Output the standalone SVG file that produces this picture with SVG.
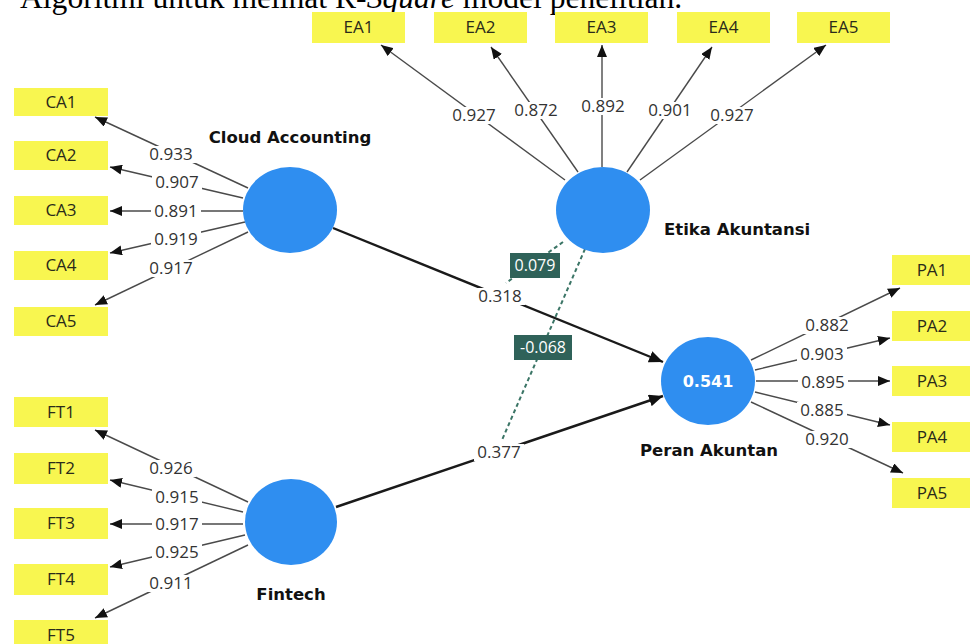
<svg xmlns="http://www.w3.org/2000/svg" width="970" height="644" viewBox="0 0 970 644">
<defs>
<style>
.cap{font-family:"Liberation Serif","Times New Roman",serif;font-size:31.6px;fill:#000}
.ind rect{fill:#f8f650}
.ind text{font-family:"Open Sans","DejaVu Sans",sans-serif;font-size:17px;fill:#2a2a1a;text-anchor:middle}
.lv ellipse{fill:#2f8ef0}
.lvname{font-family:"DejaVu Sans","Open Sans",sans-serif;font-size:16.5px;font-weight:bold;fill:#111}
.r2{font-family:"DejaVu Sans","Open Sans",sans-serif;font-size:16px;font-weight:bold;fill:#fff;text-anchor:middle}
.ld{stroke:#4a4a4a;stroke-width:1.4;fill:none}
.sp{stroke:#1a1a1a;stroke-width:2.4;fill:none}
.md{stroke:#3b7566;stroke-width:2;stroke-dasharray:4 3;fill:none}
.lbg{fill:#fff}
.lbl{font-family:"Open Sans","DejaVu Sans",sans-serif;font-size:17px;fill:#333;text-anchor:middle}
.mbox{fill:#2f6259}
.mtxt{font-family:"Open Sans","DejaVu Sans",sans-serif;font-size:16px;fill:#fff;text-anchor:middle}
</style>
<marker id="ah" viewBox="0 0 12 10" refX="12" refY="5" markerWidth="12" markerHeight="10" markerUnits="userSpaceOnUse" orient="auto">
<path d="M0,0 L12,5 L0,10 z" fill="#111"/>
</marker>
<marker id="ahb" viewBox="0 0 14 12" refX="14" refY="6" markerWidth="14" markerHeight="12" markerUnits="userSpaceOnUse" orient="auto">
<path d="M0,0 L14,6 L0,12 z" fill="#111"/>
</marker>
</defs>
<rect width="970" height="644" fill="#fff"/>
<text class="cap" x="20" y="8">Algoritmi untuk melihat R-<tspan font-style="italic">Square</tspan> model penelitian.</text>

<g id="connectors">
<!-- Cloud Accounting loadings -->
<line class="ld" x1="248" y1="188" x2="95" y2="117" marker-end="url(#ah)"/>
<line class="ld" x1="243" y1="198" x2="110" y2="167" marker-end="url(#ah)"/>
<line class="ld" x1="243" y1="211" x2="110" y2="211" marker-end="url(#ah)"/>
<line class="ld" x1="245" y1="222" x2="110" y2="253" marker-end="url(#ah)"/>
<line class="ld" x1="248" y1="232" x2="95" y2="305" marker-end="url(#ah)"/>
<!-- Fintech loadings -->
<line class="ld" x1="248" y1="502" x2="95" y2="430" marker-end="url(#ah)"/>
<line class="ld" x1="243" y1="512" x2="110" y2="480" marker-end="url(#ah)"/>
<line class="ld" x1="243" y1="524" x2="110" y2="524" marker-end="url(#ah)"/>
<line class="ld" x1="245" y1="535" x2="110" y2="567" marker-end="url(#ah)"/>
<line class="ld" x1="248" y1="545" x2="95" y2="618" marker-end="url(#ah)"/>
<!-- Etika Akuntansi loadings -->
<line class="ld" x1="565" y1="180" x2="381" y2="45" marker-end="url(#ah)"/>
<line class="ld" x1="578" y1="172" x2="491" y2="47" marker-end="url(#ah)"/>
<line class="ld" x1="602" y1="167" x2="602" y2="45" marker-end="url(#ah)"/>
<line class="ld" x1="627" y1="172" x2="712" y2="47" marker-end="url(#ah)"/>
<line class="ld" x1="640" y1="180" x2="826" y2="45" marker-end="url(#ah)"/>
<!-- Peran Akuntan loadings -->
<line class="ld" x1="751" y1="360" x2="900" y2="288" marker-end="url(#ah)"/>
<line class="ld" x1="755" y1="370" x2="890" y2="338" marker-end="url(#ah)"/>
<line class="ld" x1="756" y1="381" x2="890" y2="381" marker-end="url(#ah)"/>
<line class="ld" x1="755" y1="392" x2="890" y2="425" marker-end="url(#ah)"/>
<line class="ld" x1="751" y1="402" x2="903" y2="473" marker-end="url(#ah)"/>
<!-- structural paths -->
<line class="sp" x1="333" y1="228" x2="663" y2="362" marker-end="url(#ahb)"/>
<line class="sp" x1="336" y1="507" x2="663" y2="396" marker-end="url(#ahb)"/>
<!-- moderating effects -->
<line class="md" x1="563" y1="242" x2="506" y2="283"/>
<line class="md" x1="585" y1="249" x2="502" y2="440"/>

<!-- loading labels -->
<g>
<rect class="lbg" x="146" y="146" width="50" height="17"/><text class="lbl" x="171" y="160">0.933</text>
<rect class="lbg" x="152" y="174" width="50" height="17"/><text class="lbl" x="177" y="188">0.907</text>
<rect class="lbg" x="151" y="203" width="50" height="17"/><text class="lbl" x="176" y="217">0.891</text>
<rect class="lbg" x="151" y="231" width="50" height="17"/><text class="lbl" x="176" y="245">0.919</text>
<rect class="lbg" x="146" y="260" width="50" height="17"/><text class="lbl" x="171" y="274">0.917</text>

<rect class="lbg" x="146" y="460" width="50" height="17"/><text class="lbl" x="171" y="474">0.926</text>
<rect class="lbg" x="152" y="489" width="50" height="17"/><text class="lbl" x="177" y="503">0.915</text>
<rect class="lbg" x="152" y="516" width="50" height="17"/><text class="lbl" x="177" y="530">0.917</text>
<rect class="lbg" x="152" y="544" width="50" height="17"/><text class="lbl" x="177" y="558">0.925</text>
<rect class="lbg" x="146" y="575" width="50" height="17"/><text class="lbl" x="171" y="589">0.911</text>

<rect class="lbg" x="449" y="107" width="50" height="17"/><text class="lbl" x="474" y="121">0.927</text>
<rect class="lbg" x="511" y="102" width="50" height="17"/><text class="lbl" x="536" y="116">0.872</text>
<rect class="lbg" x="578" y="98" width="50" height="17"/><text class="lbl" x="603" y="112">0.892</text>
<rect class="lbg" x="645" y="102" width="50" height="17"/><text class="lbl" x="670" y="116">0.901</text>
<rect class="lbg" x="707" y="107" width="50" height="17"/><text class="lbl" x="732" y="121">0.927</text>

<rect class="lbg" x="802" y="317" width="50" height="17"/><text class="lbl" x="827" y="331">0.882</text>
<rect class="lbg" x="797" y="346" width="50" height="17"/><text class="lbl" x="822" y="360">0.903</text>
<rect class="lbg" x="798" y="374" width="50" height="17"/><text class="lbl" x="823" y="388">0.895</text>
<rect class="lbg" x="797" y="402" width="50" height="17"/><text class="lbl" x="822" y="416">0.885</text>
<rect class="lbg" x="802" y="431" width="50" height="17"/><text class="lbl" x="827" y="445">0.920</text>

<rect class="lbg" x="475" y="288" width="50" height="17"/><text class="lbl" x="500" y="302">0.318</text>
<rect class="lbg" x="474" y="444" width="50" height="17"/><text class="lbl" x="499" y="458">0.377</text>
</g>
<g>
<rect class="mbox" x="510" y="253" width="50" height="25"/><text class="mtxt" x="535" y="271">0.079</text>
<rect class="mbox" x="514" y="335" width="58" height="25"/><text class="mtxt" x="543" y="353">-0.068</text>
</g>
</g>

<g id="CA1" class="ind"><rect x="14" y="88" width="94" height="28"/><text x="61" y="108">CA1</text></g>
<g id="CA2" class="ind"><rect x="14" y="141" width="94" height="29"/><text x="61" y="161">CA2</text></g>
<g id="CA3" class="ind"><rect x="14" y="196" width="94" height="29"/><text x="61" y="216">CA3</text></g>
<g id="CA4" class="ind"><rect x="14" y="251" width="94" height="29"/><text x="61" y="271">CA4</text></g>
<g id="CA5" class="ind"><rect x="14" y="307" width="94" height="29"/><text x="61" y="327">CA5</text></g>

<g id="FT1" class="ind"><rect x="14" y="397" width="94" height="30"/><text x="61" y="418">FT1</text></g>
<g id="FT2" class="ind"><rect x="14" y="453" width="94" height="31"/><text x="61" y="474">FT2</text></g>
<g id="FT3" class="ind"><rect x="14" y="508" width="94" height="31"/><text x="61" y="529">FT3</text></g>
<g id="FT4" class="ind"><rect x="14" y="564" width="94" height="31"/><text x="61" y="585">FT4</text></g>
<g id="FT5" class="ind"><rect x="14" y="620" width="94" height="31"/><text x="61" y="641">FT5</text></g>

<g id="EA1" class="ind"><rect x="312" y="12" width="93" height="31"/><text x="358.5" y="33">EA1</text></g>
<g id="EA2" class="ind"><rect x="434" y="12" width="93" height="31"/><text x="480.5" y="33">EA2</text></g>
<g id="EA3" class="ind"><rect x="555" y="12" width="93" height="31"/><text x="601.5" y="33">EA3</text></g>
<g id="EA4" class="ind"><rect x="677" y="12" width="93" height="31"/><text x="723.5" y="33">EA4</text></g>
<g id="EA5" class="ind"><rect x="797" y="12" width="93" height="31"/><text x="843.5" y="33">EA5</text></g>

<g id="PA1" class="ind"><rect x="892" y="255" width="93" height="30"/><text x="932" y="276">PA1</text></g>
<g id="PA2" class="ind"><rect x="892" y="311" width="93" height="30"/><text x="932" y="332">PA2</text></g>
<g id="PA3" class="ind"><rect x="892" y="366" width="93" height="30"/><text x="932" y="387">PA3</text></g>
<g id="PA4" class="ind"><rect x="892" y="422" width="93" height="30"/><text x="932" y="443">PA4</text></g>
<g id="PA5" class="ind"><rect x="892" y="478" width="93" height="30"/><text x="932" y="499">PA5</text></g>

<g id="CloudAccounting" class="lv"><ellipse cx="290" cy="210" rx="47" ry="43"/><text class="lvname" x="290" y="143" text-anchor="middle">Cloud Accounting</text></g>
<g id="Fintech" class="lv"><ellipse cx="291" cy="522" rx="46" ry="43"/><text class="lvname" x="291" y="600" text-anchor="middle">Fintech</text></g>
<g id="EtikaAkuntansi" class="lv"><ellipse cx="603" cy="210" rx="47" ry="43"/><text class="lvname" x="664" y="235">Etika Akuntansi</text></g>
<g id="PeranAkuntan" class="lv"><ellipse cx="708" cy="381" rx="47" ry="44"/><text class="r2" x="708" y="387">0.541</text><text class="lvname" x="709" y="456" text-anchor="middle">Peran Akuntan</text></g>
</svg>
